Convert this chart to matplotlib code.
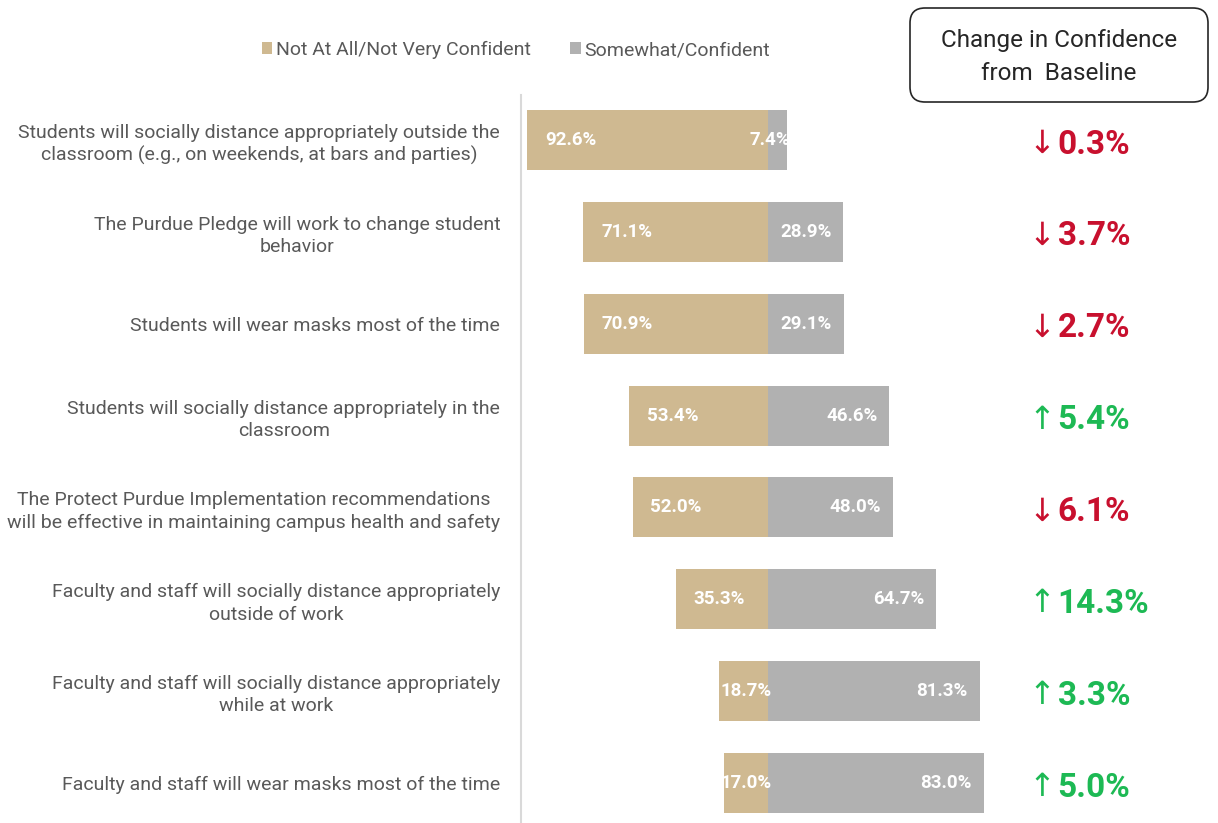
import numpy as np
import matplotlib.pyplot as plt
from matplotlib.patches import FancyBboxPatch, Patch, Rectangle

plt.rcParams['font.family'] = ['Roboto', 'DejaVu Sans']

# Datos
statements = [
    "Students will socially distance appropriately outside the\nclassroom (e.g., on weekends, at bars and parties)",
    "The Purdue Pledge will work to change student\nbehavior",
    "Students will wear masks most of the time",
    "Students will socially distance appropriately in the\nclassroom",
    "The Protect Purdue Implementation recommendations\nwill be effective in maintaining campus health and safety",
    "Faculty and staff will socially distance appropriately\noutside of work",
    "Faculty and staff will socially distance appropriately\nwhile at work",
    "Faculty and staff will wear masks most of the time",
]
not_confident = [92.6, 71.1, 70.9, 53.4, 52.0, 35.3, 18.7, 17.0]
confident = [7.4, 28.9, 29.1, 46.6, 48.0, 64.7, 81.3, 83.0]
change_vals = [0.3, 3.7, 2.7, 5.4, 6.1, 14.3, 3.3, 5.0]
change_dir = ['down', 'down', 'down', 'up', 'down', 'up', 'up', 'up']

tan = '#CFB991'
gray = '#B1B1B1'
red = '#C8102E'
green = '#1DB954'
label_col = '#595959'

fig = plt.figure(figsize=(12.18, 8.23), dpi=100)
ax = fig.add_axes([521 / 1218, 0, 1 - 521 / 1218, 1 - 95 / 823])

y = np.arange(len(statements))
nc = np.array(not_confident)
c = np.array(confident)
h = 0.653

ax.barh(y, -nc, height=h, color=tan, edgecolor='none')
ax.barh(y, c, height=h, color=gray, edgecolor='none')

ax.set_xlim(-95, 173)
ax.set_ylim(len(statements) - 1 + 0.435, -0.49)

# Etiquetas dentro de las barras (recortadas al borde exterior de la barra)
for i in range(len(statements)):
    xl = min(-nc[i] + 26.5, 1.5)
    t = ax.text(xl, y[i], f"{nc[i]:.1f}%", color='white', fontsize=13.5,
                fontweight='bold', ha='right', va='center')
    t.set_clip_path(Rectangle((-nc[i], y[i] - h / 2), 300, h, transform=ax.transData))
    xr = max(c[i] - 4.6, 8.5)
    t = ax.text(xr, y[i], f"{c[i]:.1f}%", color='white', fontsize=13.5,
                fontweight='bold', ha='right', va='center')
    t.set_clip_path(Rectangle((-300, y[i] - h / 2), 300 + c[i], h, transform=ax.transData))

# Cambio respecto a la línea base
for i in range(len(statements)):
    col = red if change_dir[i] == 'down' else green
    arrow = '\u2193' if change_dir[i] == 'down' else '\u2191'
    ax.text(100.0, y[i] + 0.05, arrow, color=col, fontsize=23,
            ha='left', va='center', family=['DejaVu Sans'])
    ax.text(111.3, y[i] + 0.05, f"{change_vals[i]:.1f}%", color=col,
            fontsize=24, fontweight='bold', ha='left', va='center')

ax.set_yticks(y)
ax.set_yticklabels(statements, fontsize=14, color=label_col,
                   multialignment='center', linespacing=1.3)
ax.tick_params(axis='y', length=0, pad=15)
ax.set_xticks([])
for s in ['top', 'right', 'bottom']:
    ax.spines[s].set_visible(False)
ax.spines['left'].set_color('#D9D9D9')
ax.spines['left'].set_linewidth(1.5)

# Leyenda
handles = [Patch(facecolor=tan, label='Not At All/Not Very Confident'),
           Patch(facecolor=gray, label='Somewhat/Confident')]
fig.legend(handles=handles, loc='center', bbox_to_anchor=(516 / 1218, 1 - 50 / 823),
           ncol=2, frameon=False, fontsize=14, handlelength=0.55, handleheight=0.55,
           handletextpad=0.2, columnspacing=2.0, labelcolor=label_col)

# Cuadro de título
box = FancyBboxPatch((9.10, 8.23 - 1.02), 2.98, 0.94,
                     boxstyle='round,pad=0,rounding_size=0.15',
                     transform=fig.dpi_scale_trans, facecolor='white',
                     edgecolor='#262626', linewidth=1.2)
fig.patches.append(box)
fig.text(1059 / 1218, 1 - 57 / 823, "Change in Confidence\nfrom  Baseline",
         ha='center', va='center', fontsize=17.5, color='#262626', linespacing=1.6)

fig.savefig('out.png', dpi=100)
